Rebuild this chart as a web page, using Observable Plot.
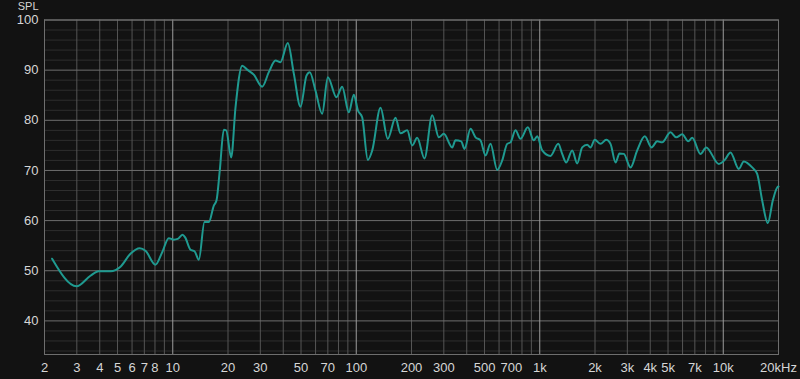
<!DOCTYPE html>
<html><head><meta charset="utf-8">
<script src="https://cdn.jsdelivr.net/npm/d3@7"></script>
<script src="https://cdn.jsdelivr.net/npm/@observablehq/plot@0.6"></script>
<style>
html,body{margin:0;padding:0;background:#121212;}
#chart{width:800px;height:379px;}
</style></head><body><div id="chart"></div>
<script>
// Frequency response (Hz) and sound pressure level (dB)
const freq = [2.20, 2.99, 3.56, 3.95, 4.58, 5.19, 5.88, 6.61, 7.10, 8.05, 8.76, 9.51, 10.13, 10.65, 11.3, 11.7,
  12.49, 13.14, 13.87, 14.89, 15.72, 16.74, 17.31, 18.04, 18.97, 19.55, 20.82, 21.98, 23.91, 25.45, 27.64,
  30.71, 33.38, 36.31, 38.64, 42.36, 45.68, 49.68, 53.56, 55.8, 59.98, 65.2, 70.0, 78.0, 83.8, 91.1, 97.0,
  102.0, 107.7, 115.6, 122.2, 135.6, 148.5, 163.6, 174.2, 189.5, 201.8, 214.8, 235.4, 259.4, 281.7, 300.0,
  333.3, 347.4, 373.1, 389.0, 419.4, 446.7, 475.5, 506.3, 539.0, 586.2, 624.2, 664.6, 692.6, 737.6, 785.3,
  860.8, 928.2, 968.4, 1031, 1144, 1261, 1325, 1394, 1502, 1600, 1703, 1814, 1890, 1995, 2143, 2302, 2430,
  2588, 2720, 2871, 3124, 3396, 3736, 4064, 4365, 4648, 5158, 5539, 5975, 6443, 6773, 7514, 8072, 9454,
  10193, 10948, 12149, 12940, 14376, 15306, 16297, 17490, 18620, 19676, 20000];
const spl = [52.4, 46.9, 49.0, 49.9, 49.9, 50.8, 53.4, 54.5, 54.0, 51.2, 53.7, 56.5, 56.2, 56.35, 57.2, 56.6,
  54.2, 53.9, 52.2, 59.7, 59.7, 63.0, 64.0, 70.0, 78.1, 78.0, 72.6, 82.6, 90.9, 90.1, 89.1,
  86.7, 89.6, 91.9, 91.6, 95.4, 89.3, 82.7, 88.9, 89.6, 85.9, 81.3, 88.6, 84.6, 86.7, 81.6, 85.1,
  82.0, 80.6, 72.1, 74.0, 82.5, 76.3, 80.5, 77.4, 78.0, 75.0, 76.5, 72.4, 81.0, 76.6, 77.3,
  74.6, 76.0, 75.8, 74.3, 78.3, 76.6, 76.0, 73.0, 75.3, 70.1, 72.0, 75.3, 75.6, 78.0, 76.3,
  78.6, 76.0, 76.8, 74.0, 72.9, 75.3, 73.3, 71.6, 74.0, 71.4, 74.6, 75.1, 74.6, 76.1, 75.3, 76.1, 75.3,
  71.6, 73.4, 73.3, 70.6, 74.0, 76.8, 74.6, 75.8, 75.6, 77.6, 76.6, 77.2, 75.8, 76.5, 73.3, 74.6, 71.3,
  72.1, 73.6, 70.3, 71.8, 70.6, 69.3, 64.0, 59.5, 64.0, 66.6, 66.8];

const xTickValues = [2, 3, 4, 5, 6, 7, 8, 10, 20, 30, 50, 70, 100, 200, 300, 500, 700, 1000, 2000, 3000, 4000, 5000, 7000, 10000, 20000];
const xTickLabels = ["2", "3", "4", "5", "6", "7", "8", "10", "20", "30", "50", "70", "100", "200", "300", "500", "700", "1k", "2k", "3k", "4k", "5k", "7k", "10k", "20kHz"];
const yTicks = [40, 50, 60, 70, 80, 90, 100];
const yMinor = [34, 36, 38, 42, 44, 46, 48, 52, 54, 56, 58, 62, 64, 66, 68, 72, 74, 76, 78, 82, 84, 86, 88, 92, 94, 96, 98];
const xMinor = [2, 3, 4, 5, 6, 7, 8, 9, 20, 30, 40, 50, 60, 70, 80, 90, 200, 300, 400, 500, 600, 700, 800, 900,
  2000, 3000, 4000, 5000, 6000, 7000, 8000, 9000, 20000];
const xDecades = [10, 100, 1000, 10000];
const yTitle = "SPL";

const xLabelRows = xTickValues.map((v, i) => ({v, label: xTickLabels[i]}));
const rows = freq.map((f, i) => ({f, s: spl[i]}));

const chart = Plot.plot({
  width: 800,
  height: 379,
  marginLeft: 44,
  marginRight: 22,
  marginTop: 19.5,
  marginBottom: 25,
  style: {background: "#121212", color: "#d6d6d6", fontFamily: "'Liberation Sans', Arial, sans-serif", fontSize: "13px"},
  x: {type: "log", domain: [2, 20000], axis: null},
  y: {domain: [33.3, 100], axis: null},
  marks: [
    Plot.ruleY(yMinor, {stroke: "#2e2e2e"}),
    Plot.ruleX(xMinor, {stroke: "#555555"}),
    Plot.ruleY(yTicks, {stroke: "#6e6e6e"}),
    Plot.ruleX(xDecades, {stroke: "#9c9c9c"}),
    Plot.frame({stroke: "#6e6e6e"}),
    Plot.text(xLabelRows, {x: "v", text: "label", frameAnchor: "bottom", lineAnchor: "top", dy: 8, fill: "#d6d6d6"}),
    Plot.text(yTicks, {y: d => d, text: d => String(d), frameAnchor: "left", textAnchor: "end", dx: -6, fill: "#d6d6d6"}),
    Plot.text([yTitle], {text: d => d, frameAnchor: "top-left", textAnchor: "end", lineAnchor: "middle", dx: -6, dy: -13.7, fontSize: 11, fill: "#d6d6d6"}),
    Plot.line(rows, {x: "f", y: "s", stroke: "#1f9a90", strokeWidth: 2, curve: "monotone-x"})
  ]
});
document.getElementById("chart").appendChild(chart);
</script>
</body></html>
